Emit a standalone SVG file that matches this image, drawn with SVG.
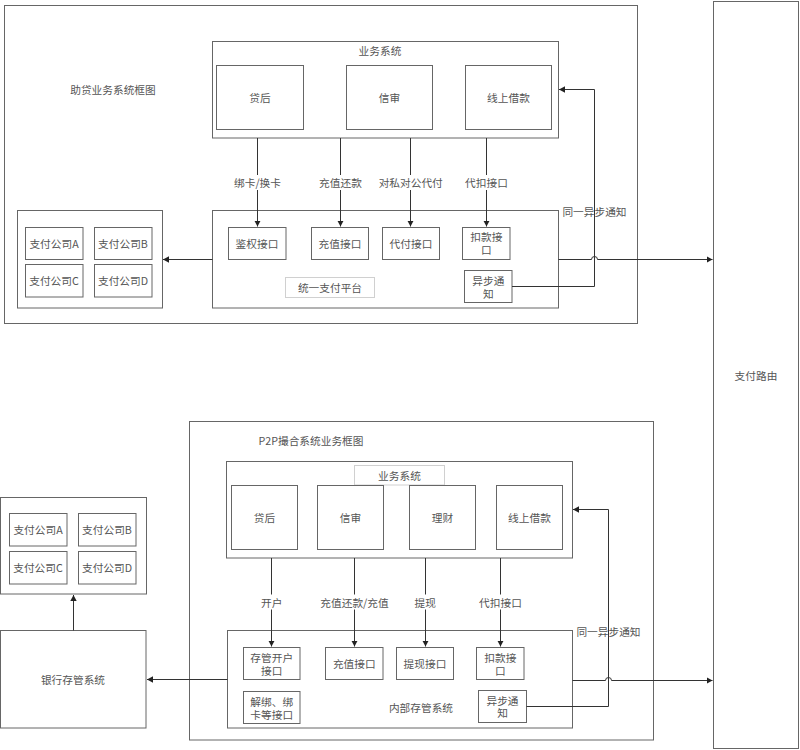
<svg xmlns="http://www.w3.org/2000/svg" width="800" height="750" viewBox="0 0 800 750">
<defs>
<marker id="arr" markerWidth="8" markerHeight="8" refX="6" refY="4" orient="auto" markerUnits="userSpaceOnUse"><path d="M0,0.8 L6,4 L0,7.2 Z" fill="#222"/></marker>
<style>
.box{fill:#fff;stroke:#666;stroke-width:1}
.lbox{fill:#fff;stroke:#d0d0d0;stroke-width:1}
.ln{fill:none;stroke:#333;stroke-width:1}
text{font-family:"Noto Sans CJK SC","Liberation Sans",sans-serif;font-size:10.7px;fill:#555;text-anchor:middle;dominant-baseline:central}
.bg{fill:#fff}
</style>
</defs>
<rect width="800" height="750" fill="#fff"/>

<!-- Top section -->
<g id="top-frame"><rect class="box" x="4.5" y="5.5" width="633" height="318"/><text x="113" y="89">助贷业务系统框图</text></g>
<g id="top-biz"><rect class="box" x="212.5" y="41.5" width="346" height="96.5"/><text x="380" y="50">业务系统</text></g>
<g id="top-daihou"><rect class="box" x="216.5" y="65.5" width="87" height="64"/><text x="260" y="97">贷后</text></g>
<g id="top-xinshen"><rect class="box" x="346.5" y="65.5" width="86" height="64"/><text x="389.5" y="97">信审</text></g>
<g id="top-xianshang"><rect class="box" x="465.5" y="65.5" width="86" height="64"/><text x="508.5" y="97">线上借款</text></g>
<g id="top-platform"><rect class="box" x="212.5" y="210.5" width="346" height="97.5"/></g>
<g id="top-jianquan"><rect class="box" x="228.5" y="227.5" width="57.5" height="32"/><text x="257" y="243">鉴权接口</text></g>
<g id="top-chongzhi"><rect class="box" x="311.5" y="227.5" width="57" height="32"/><text x="340" y="243">充值接口</text></g>
<g id="top-daifu"><rect class="box" x="382.5" y="227.5" width="57" height="32"/><text x="411" y="243">代付接口</text></g>
<g id="top-koukuan"><rect class="box" x="462.5" y="227.5" width="47.5" height="32"/><text x="486.3" y="236.5">扣款接<tspan x="486.3" dy="12.5">口</tspan></text></g>
<g id="top-yibu"><rect class="box" x="464.5" y="270.5" width="47.5" height="32"/><text x="488.3" y="280">异步通<tspan x="488.3" dy="12.5">知</tspan></text></g>
<g id="top-platform-label"><rect class="lbox" x="285.5" y="277.5" width="89" height="20"/><text x="330" y="287.5">统一支付平台</text></g>
<g id="top-paycos"><rect class="box" x="17.5" y="210.5" width="145" height="97.5"/></g>
<g id="top-payA"><rect class="box" x="25.5" y="227.5" width="57.5" height="32"/><text x="54" y="243">支付公司A</text></g>
<g id="top-payB"><rect class="box" x="94.5" y="227.5" width="57.5" height="32"/><text x="123" y="243">支付公司B</text></g>
<g id="top-payC"><rect class="box" x="25.5" y="264.5" width="57.5" height="32.5"/><text x="54" y="280.5">支付公司C</text></g>
<g id="top-payD"><rect class="box" x="94.5" y="264.5" width="57.5" height="32.5"/><text x="123" y="280.5">支付公司D</text></g>

<!-- Payment router -->
<g id="router"><rect class="box" x="713.5" y="1.5" width="85" height="747"/><text x="756" y="375">支付路由</text></g>

<!-- Bottom section -->
<g id="bot-frame"><rect class="box" x="189.5" y="421.5" width="464" height="318.5"/><text x="311" y="440.5">P2P撮合系统业务框图</text></g>
<g id="bot-biz"><rect class="box" x="226.5" y="461.5" width="346" height="96.5"/></g>
<g id="bot-biz-label"><rect class="lbox" x="354.5" y="465.5" width="90" height="19.5"/><text x="399.5" y="475">业务系统</text></g>
<g id="bot-daihou"><rect class="box" x="231.5" y="485.5" width="66" height="64"/><text x="264.5" y="517.3">贷后</text></g>
<g id="bot-xinshen"><rect class="box" x="317.5" y="485.5" width="66" height="64"/><text x="350.5" y="517.3">信审</text></g>
<g id="bot-licai"><rect class="box" x="409.5" y="485.5" width="66" height="64"/><text x="442.5" y="517.3">理财</text></g>
<g id="bot-xianshang"><rect class="box" x="496.5" y="485.5" width="66" height="64"/><text x="529.5" y="517.3">线上借款</text></g>
<g id="bot-inner"><rect class="box" x="227.5" y="630.5" width="345" height="97.5"/><text x="421" y="707">内部存管系统</text></g>
<g id="bot-kaihu"><rect class="box" x="243.5" y="647.5" width="56.5" height="32"/><text x="271.7" y="657">存管开户<tspan x="271.7" dy="12.5">接口</tspan></text></g>
<g id="bot-jiebang"><rect class="box" x="243.5" y="691.5" width="56.5" height="32"/><text x="271.7" y="701">解绑、绑<tspan x="271.7" dy="12.5">卡等接口</tspan></text></g>
<g id="bot-chongzhi"><rect class="box" x="325.5" y="647.5" width="57.5" height="32"/><text x="354.3" y="663.5">充值接口</text></g>
<g id="bot-tixian"><rect class="box" x="396.5" y="647.5" width="57" height="32"/><text x="425" y="663.5">提现接口</text></g>
<g id="bot-koukuan"><rect class="box" x="476.5" y="647.5" width="47.5" height="32"/><text x="500.3" y="657">扣款接<tspan x="500.3" dy="12.5">口</tspan></text></g>
<g id="bot-yibu"><rect class="box" x="478.5" y="690.5" width="48" height="32"/><text x="502.5" y="700">异步通<tspan x="502.5" dy="12">知</tspan></text></g>
<g id="bot-paycos"><rect class="box" x="0.5" y="497.5" width="146" height="96.5"/></g>
<g id="bot-payA"><rect class="box" x="9.5" y="513.5" width="57.5" height="32.5"/><text x="38" y="529.7">支付公司A</text></g>
<g id="bot-payB"><rect class="box" x="78.5" y="513.5" width="57.5" height="32.5"/><text x="107" y="529.7">支付公司B</text></g>
<g id="bot-payC"><rect class="box" x="9.5" y="551.5" width="57.5" height="32.5"/><text x="38" y="567.5">支付公司C</text></g>
<g id="bot-payD"><rect class="box" x="78.5" y="551.5" width="57.5" height="32.5"/><text x="107" y="567.5">支付公司D</text></g>
<g id="bot-bank"><rect class="box" x="0.5" y="630.5" width="145.5" height="97.5"/><text x="73" y="679.3">银行存管系统</text></g>

<!-- Connectors -->
<g id="connectors">
<path class="ln" d="M257.5 138 V226.5" marker-end="url(#arr)"/>
<path class="ln" d="M340.5 138 V226.5" marker-end="url(#arr)"/>
<path class="ln" d="M410.5 138 V226.5" marker-end="url(#arr)"/>
<path class="ln" d="M486.5 138 V226.5" marker-end="url(#arr)"/>
<path class="ln" d="M212.5 259.5 H163" marker-end="url(#arr)"/>
<path class="ln" d="M558.5 259.5 H591.5 a3 3 0 0 1 6 0 H712.5" marker-end="url(#arr)"/>
<path class="ln" d="M512 286.5 H594.5 V89.5 H559" marker-end="url(#arr)"/>

<path class="ln" d="M271.5 558 V646.5" marker-end="url(#arr)"/>
<path class="ln" d="M354.5 558 V646.5" marker-end="url(#arr)"/>
<path class="ln" d="M425.5 558 V646.5" marker-end="url(#arr)"/>
<path class="ln" d="M500.5 558 V646.5" marker-end="url(#arr)"/>
<path class="ln" d="M227.5 679.5 H147" marker-end="url(#arr)"/>
<path class="ln" d="M73.5 630.5 V595" marker-end="url(#arr)"/>
<path class="ln" d="M572.5 680.5 H605.5 a3 3 0 0 1 6 0 H712.5" marker-end="url(#arr)"/>
<path class="ln" d="M526.5 706.5 H608.5 V509.5 H573" marker-end="url(#arr)"/>

<rect class="bg" x="232" y="175" width="50" height="15"/><text x="257.5" y="182.7">绑卡/换卡</text>
<rect class="bg" x="318" y="175" width="45" height="15"/><text x="340.5" y="182.7">充值还款</text>
<rect class="bg" x="378" y="175" width="66" height="15"/><text x="410.7" y="182.7">对私对公代付</text>
<rect class="bg" x="464" y="175" width="45" height="15"/><text x="486.5" y="182.7">代扣接口</text>
<text x="594.5" y="211">同一异步通知</text>

<rect class="bg" x="259" y="594.5" width="25" height="15"/><text x="271.7" y="602">开户</text>
<rect class="bg" x="320" y="594.5" width="69" height="15"/><text x="354.5" y="602">充值还款/充值</text>
<rect class="bg" x="413" y="594.5" width="25" height="15"/><text x="425.3" y="602">提现</text>
<rect class="bg" x="478" y="594.5" width="45" height="15"/><text x="500.5" y="602">代扣接口</text>
<text x="608.5" y="631">同一异步通知</text>
</g>
</svg>
